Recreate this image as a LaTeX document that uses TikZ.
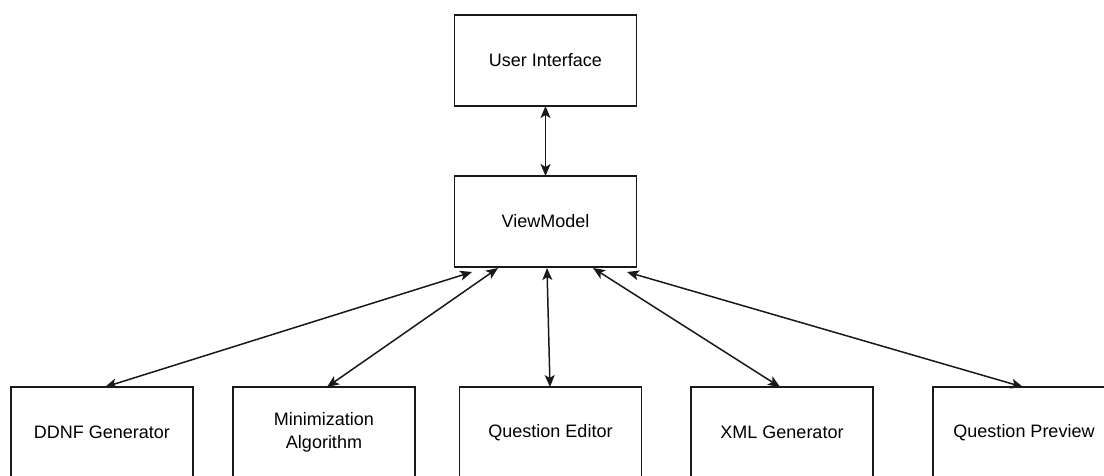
\documentclass[tikz,border=0pt]{standalone}
\usepackage{fontspec}
\setmainfont{Liberation Sans}
\usetikzlibrary{arrows.meta,calc}
\begin{document}
\begin{tikzpicture}[x=1pt,y=-1pt,
  block/.style={draw=black!90, line width=1.5pt, fill=white, minimum width=182pt,
    minimum height=91pt, inner sep=0pt, outer sep=0pt, align=center,
    font=\fontsize{18}{23.5}\selectfont, text=black},
  link/.style={draw=black!90, line width=1.5pt,
    {Stealth[length=12pt,width=10pt,inset=3pt]}-{Stealth[length=12pt,width=10pt,inset=3pt]}}]
  \clip (0,0) rectangle (1104,475);
  \useasboundingbox (0,0) rectangle (1104,475);
  \fill[white] (0,0) rectangle (1104,475);

  % top layer
  \node[block] (ui) at (545.5,60.5) {User Interface};
  \node[block] (vm) at (545.5,221.5) {ViewModel};

  % components
  \node[block] (ddnf) at (102,432.5) {DDNF Generator};
  \node[block] (mini) at (324,432.5) {Minimization\\Algorithm};
  \node[block] (qe)   at (550.5,432.5) {Question Editor};
  \node[block] (xml)  at (782,432.5) {XML Generator};
  \node[block] (prev) at (1024,432.5) {Question Preview};

  % attachment points
  \coordinate (vmA) at (472,272);
  \coordinate (vmB) at (498,268);
  \coordinate (vmC) at (547,268);
  \coordinate (vmD) at (593,268);
  \coordinate (vmE) at (627,272);
  \coordinate (ddnfT) at (105,387);
  \coordinate (miniT) at (327,387);
  \coordinate (qeT)   at (550,387);
  \coordinate (xmlT)  at (780,387);
  \coordinate (prevT) at (1023,387);

  \draw[link] (ui.south) -- (vm.north);
  \draw[link] (vmA) -- (ddnfT);
  \draw[link] (vmB) -- (miniT);
  \draw[link] (vmC) -- (qeT);
  \draw[link] (vmD) -- (xmlT);
  \draw[link] (vmE) -- (prevT);
\end{tikzpicture}
\end{document}
